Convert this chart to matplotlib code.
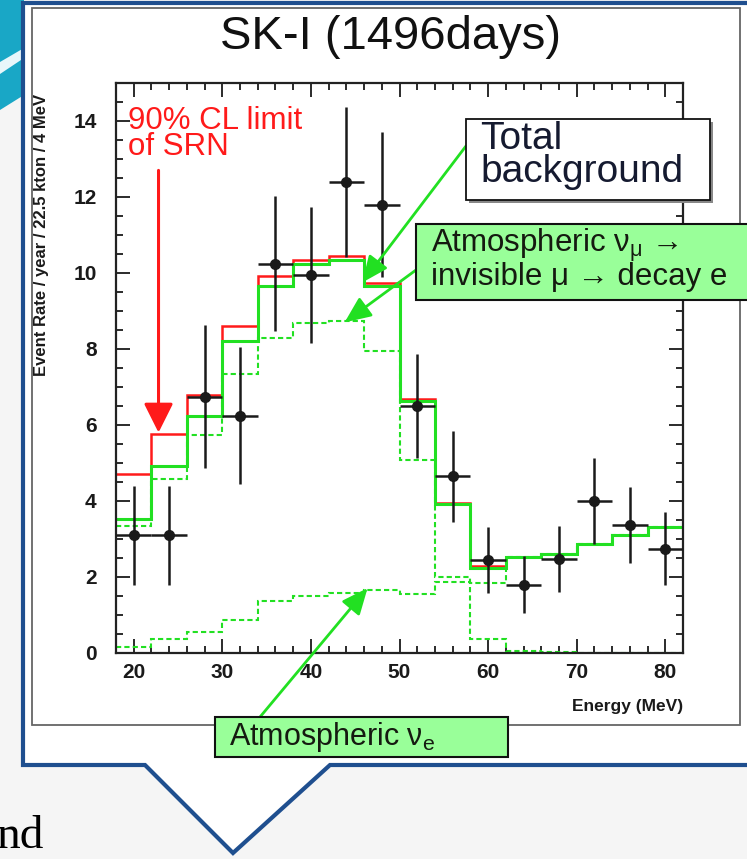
import numpy as np
import matplotlib
matplotlib.use("Agg")
from matplotlib import pyplot as plt
from matplotlib.patches import Rectangle, Polygon
from matplotlib.ticker import MultipleLocator

plt.rcParams['font.family'] = ['Liberation Sans', 'DejaVu Sans']
plt.rcParams['mathtext.fontset'] = 'custom'
plt.rcParams['mathtext.rm'] = 'Liberation Sans'
plt.rcParams['mathtext.it'] = 'Liberation Sans:italic'

# energy bins (MeV), 4 MeV wide
bin_edges = [18, 22, 26, 30, 34, 38, 42, 46, 50, 54, 58, 62, 66, 70, 74, 78, 82]

# SK-I data points
data_energy = [20, 24, 28, 32, 36, 40, 44, 48, 52, 56, 60, 64, 68, 72, 76, 80]
data_rate = [3.1, 3.1, 6.75, 6.25, 10.25, 9.95, 12.4, 11.8,
             6.5, 4.65, 2.45, 1.8, 2.47, 4.0, 3.37, 2.75]
data_err = [1.3, 1.3, 1.87, 1.8, 1.77, 1.78, 1.97, 1.9,
            1.38, 1.2, 0.86, 0.76, 0.86, 1.13, 1.0, 0.95]

# background + SRN 90% CL limit
limit_srn = [4.7, 5.77, 6.8, 8.6, 9.93, 10.34, 10.45, 9.74,
             6.69, 3.95, 2.3, 2.52, 2.6, 2.86, 3.1, 3.32]
# total background
total_bg = [3.52, 4.93, 6.25, 8.2, 9.66, 10.23, 10.33, 9.66,
            6.64, 3.92, 2.25, 2.52, 2.6, 2.86, 3.1, 3.32]
# atmospheric nu_mu -> invisible mu -> decay e
decay_e = [3.33, 4.57, 5.75, 7.33, 8.3, 8.68, 8.73, 7.94,
           5.07, 2.0, 0.37, 0.05, 0.02, 0.0, 0.0, 0.0]
# atmospheric nu_e
atm_nue = [0.16, 0.37, 0.55, 0.87, 1.37, 1.5, 1.58, 1.66,
           1.56, 1.87, 1.83, 2.52, 2.6, 2.86, 3.1, 3.32]

W, H = 747, 859
RED = '#ff1a1a'
GREEN = '#22e022'
BOXGREEN = '#99ff99'
BLUE = '#1f4f8f'


def fx(px):
    return px / W


def fy(py):
    return 1 - py / H


fig = plt.figure(figsize=(W / 100, H / 100), dpi=100, facecolor='#f5f5f5')

# slide decoration: teal swoosh, callout, canvas frame
fig.patches.append(Polygon([(fx(0), fy(0)), (fx(24), fy(0)), (fx(24), fy(95)),
                            (fx(0), fy(110))], closed=True, transform=fig.transFigure,
                           facecolor='#19a7c6', edgecolor='none', zorder=0))
fig.patches.append(Polygon([(fx(0), fy(62)), (fx(24), fy(48)), (fx(24), fy(58)),
                            (fx(0), fy(74))], closed=True, transform=fig.transFigure,
                           facecolor='#e8f6fa', edgecolor='none', zorder=0))
callout = [(23, 3), (770, 3), (770, 765), (330, 765), (233, 853), (145, 765), (23, 765)]
fig.patches.append(Polygon([(fx(x), fy(y)) for x, y in callout], closed=True,
                           transform=fig.transFigure, facecolor='white',
                           edgecolor=BLUE, lw=3, zorder=0))
fig.patches.append(Rectangle((fx(32), fy(725)), fx(740) - fx(32), fy(8) - fy(725),
                             transform=fig.transFigure, facecolor='white',
                             edgecolor='#666666', lw=1.3, zorder=0))
fig.text(fx(44), fy(848), 'nd', ha='right', va='baseline', fontsize=34,
         family='Liberation Serif', color='black')

ax = fig.add_axes([fx(116), fy(653), fx(683) - fx(116), fy(83) - fy(653)])
ax.set_zorder(2)
ax.set_facecolor('white')

ax.stairs(limit_srn, bin_edges, baseline=None, color=RED, lw=1.8, zorder=2)
ax.stairs(total_bg, bin_edges, baseline=None, color=GREEN, lw=2.2, zorder=2.1)
ax.stairs(decay_e, bin_edges, baseline=None, color=GREEN, lw=1.5,
          linestyle=(0, (2.5, 1.5)), zorder=1.9)
ax.stairs(atm_nue, bin_edges, baseline=None, color=GREEN, lw=1.5,
          linestyle=(0, (2.5, 1.5)), zorder=1.9)

ax.errorbar(data_energy, data_rate, yerr=data_err, xerr=2, fmt='o', color='#1a1a1a',
            ms=7, elinewidth=1.8, capsize=0, zorder=3)

ax.set_xlim(18, 82)
ax.set_ylim(0, 15)
ax.xaxis.set_major_locator(MultipleLocator(10))
ax.xaxis.set_minor_locator(MultipleLocator(2))
ax.yaxis.set_major_locator(MultipleLocator(2))
ax.yaxis.set_minor_locator(MultipleLocator(0.5))
ax.tick_params(which='both', direction='in', top=True, right=True, width=1.3,
               labelsize=15, colors='#1a1a1a')
ax.tick_params(which='major', length=10)
ax.tick_params(which='minor', length=5)
ax.tick_params(axis='x', pad=7)
ax.tick_params(axis='y', pad=14)
for lab in ax.get_xticklabels() + ax.get_yticklabels():
    lab.set_fontweight('bold')
for sp in ax.spines.values():
    sp.set_linewidth(1.6)
    sp.set_color('#222222')

fig.text(fx(42), fy(235), 'Event Rate / year / 22.5 kton / 4 MeV', rotation=90,
         ha='center', va='center', fontsize=12, fontweight='bold', color='#1a1a1a')
fig.text(fx(683), fy(707), 'Energy (MeV)', ha='right', va='center', fontsize=12.5,
         fontweight='bold', color='#1a1a1a')
fig.text(fx(391), fy(37), 'SK-I (1496days)', ha='center', va='center',
         fontsize=34, color='#111111')

# red limit label and arrow
ax.text(19.3, 14.4, '90% CL limit\nof SRN', color=RED, fontsize=22.5, ha='left',
        va='top', linespacing=0.82)
ax.annotate('', xy=(22.8, 5.8), xytext=(22.8, 12.7), xycoords='data',
            arrowprops=dict(arrowstyle='-|>,head_length=0.9,head_width=0.45',
                            color=RED, lw=2.2, mutation_scale=20, shrinkA=0, shrinkB=0))

# label boxes
fig.patches.append(Rectangle((fx(469), fy(203)), fx(713) - fx(469), fy(122) - fy(203),
                             transform=fig.transFigure, facecolor='#888888',
                             edgecolor='none', zorder=5))
fig.patches.append(Rectangle((fx(466), fy(200)), fx(710) - fx(466), fy(119) - fy(200),
                             transform=fig.transFigure, facecolor='white',
                             edgecolor='#111111', lw=1.3, zorder=5))
fig.text(fx(480), fy(121), 'Total\nbackground', ha='left', va='top', fontsize=28,
         linespacing=0.88, color='#151a30', zorder=6)

fig.patches.append(Rectangle((fx(416), fy(300)), fx(760) - fx(416), fy(224) - fy(300),
                             transform=fig.transFigure, facecolor=BOXGREEN,
                             edgecolor='#111111', lw=1.5, zorder=5))
fig.text(fx(431), fy(227), 'Atmospheric ν$_\\mathregular{μ}$ →\ninvisible μ → decay e',
         ha='left', va='top', fontsize=22.5, linespacing=0.9, color='#151a10', zorder=6)

fig.patches.append(Rectangle((fx(215), fy(757)), fx(508) - fx(215), fy(717) - fy(757),
                             transform=fig.transFigure, facecolor=BOXGREEN,
                             edgecolor='#111111', lw=1.5, zorder=5))
fig.text(fx(229), fy(720), 'Atmospheric ν$_\\mathregular{e}$', ha='left', va='top',
         fontsize=22, color='#151a10', zorder=6)

arrow_style = dict(arrowstyle='-|>,head_length=0.8,head_width=0.35', color=GREEN,
                   lw=2, mutation_scale=20, shrinkA=0, shrinkB=0)
ax.annotate('', xy=(45.8, 9.75), xytext=(fx(466), fy(146)), xycoords='data',
            textcoords='figure fraction', arrowprops=arrow_style, annotation_clip=False)
ax.annotate('', xy=(43.8, 8.7), xytext=(fx(416), fy(270)), xycoords='data',
            textcoords='figure fraction', arrowprops=arrow_style, annotation_clip=False)
ax.annotate('', xy=(46.4, 1.71), xytext=(fx(260), fy(717)), xycoords='data',
            textcoords='figure fraction', arrowprops=arrow_style, annotation_clip=False)

fig.savefig('out.png', dpi=100, facecolor=fig.get_facecolor())
